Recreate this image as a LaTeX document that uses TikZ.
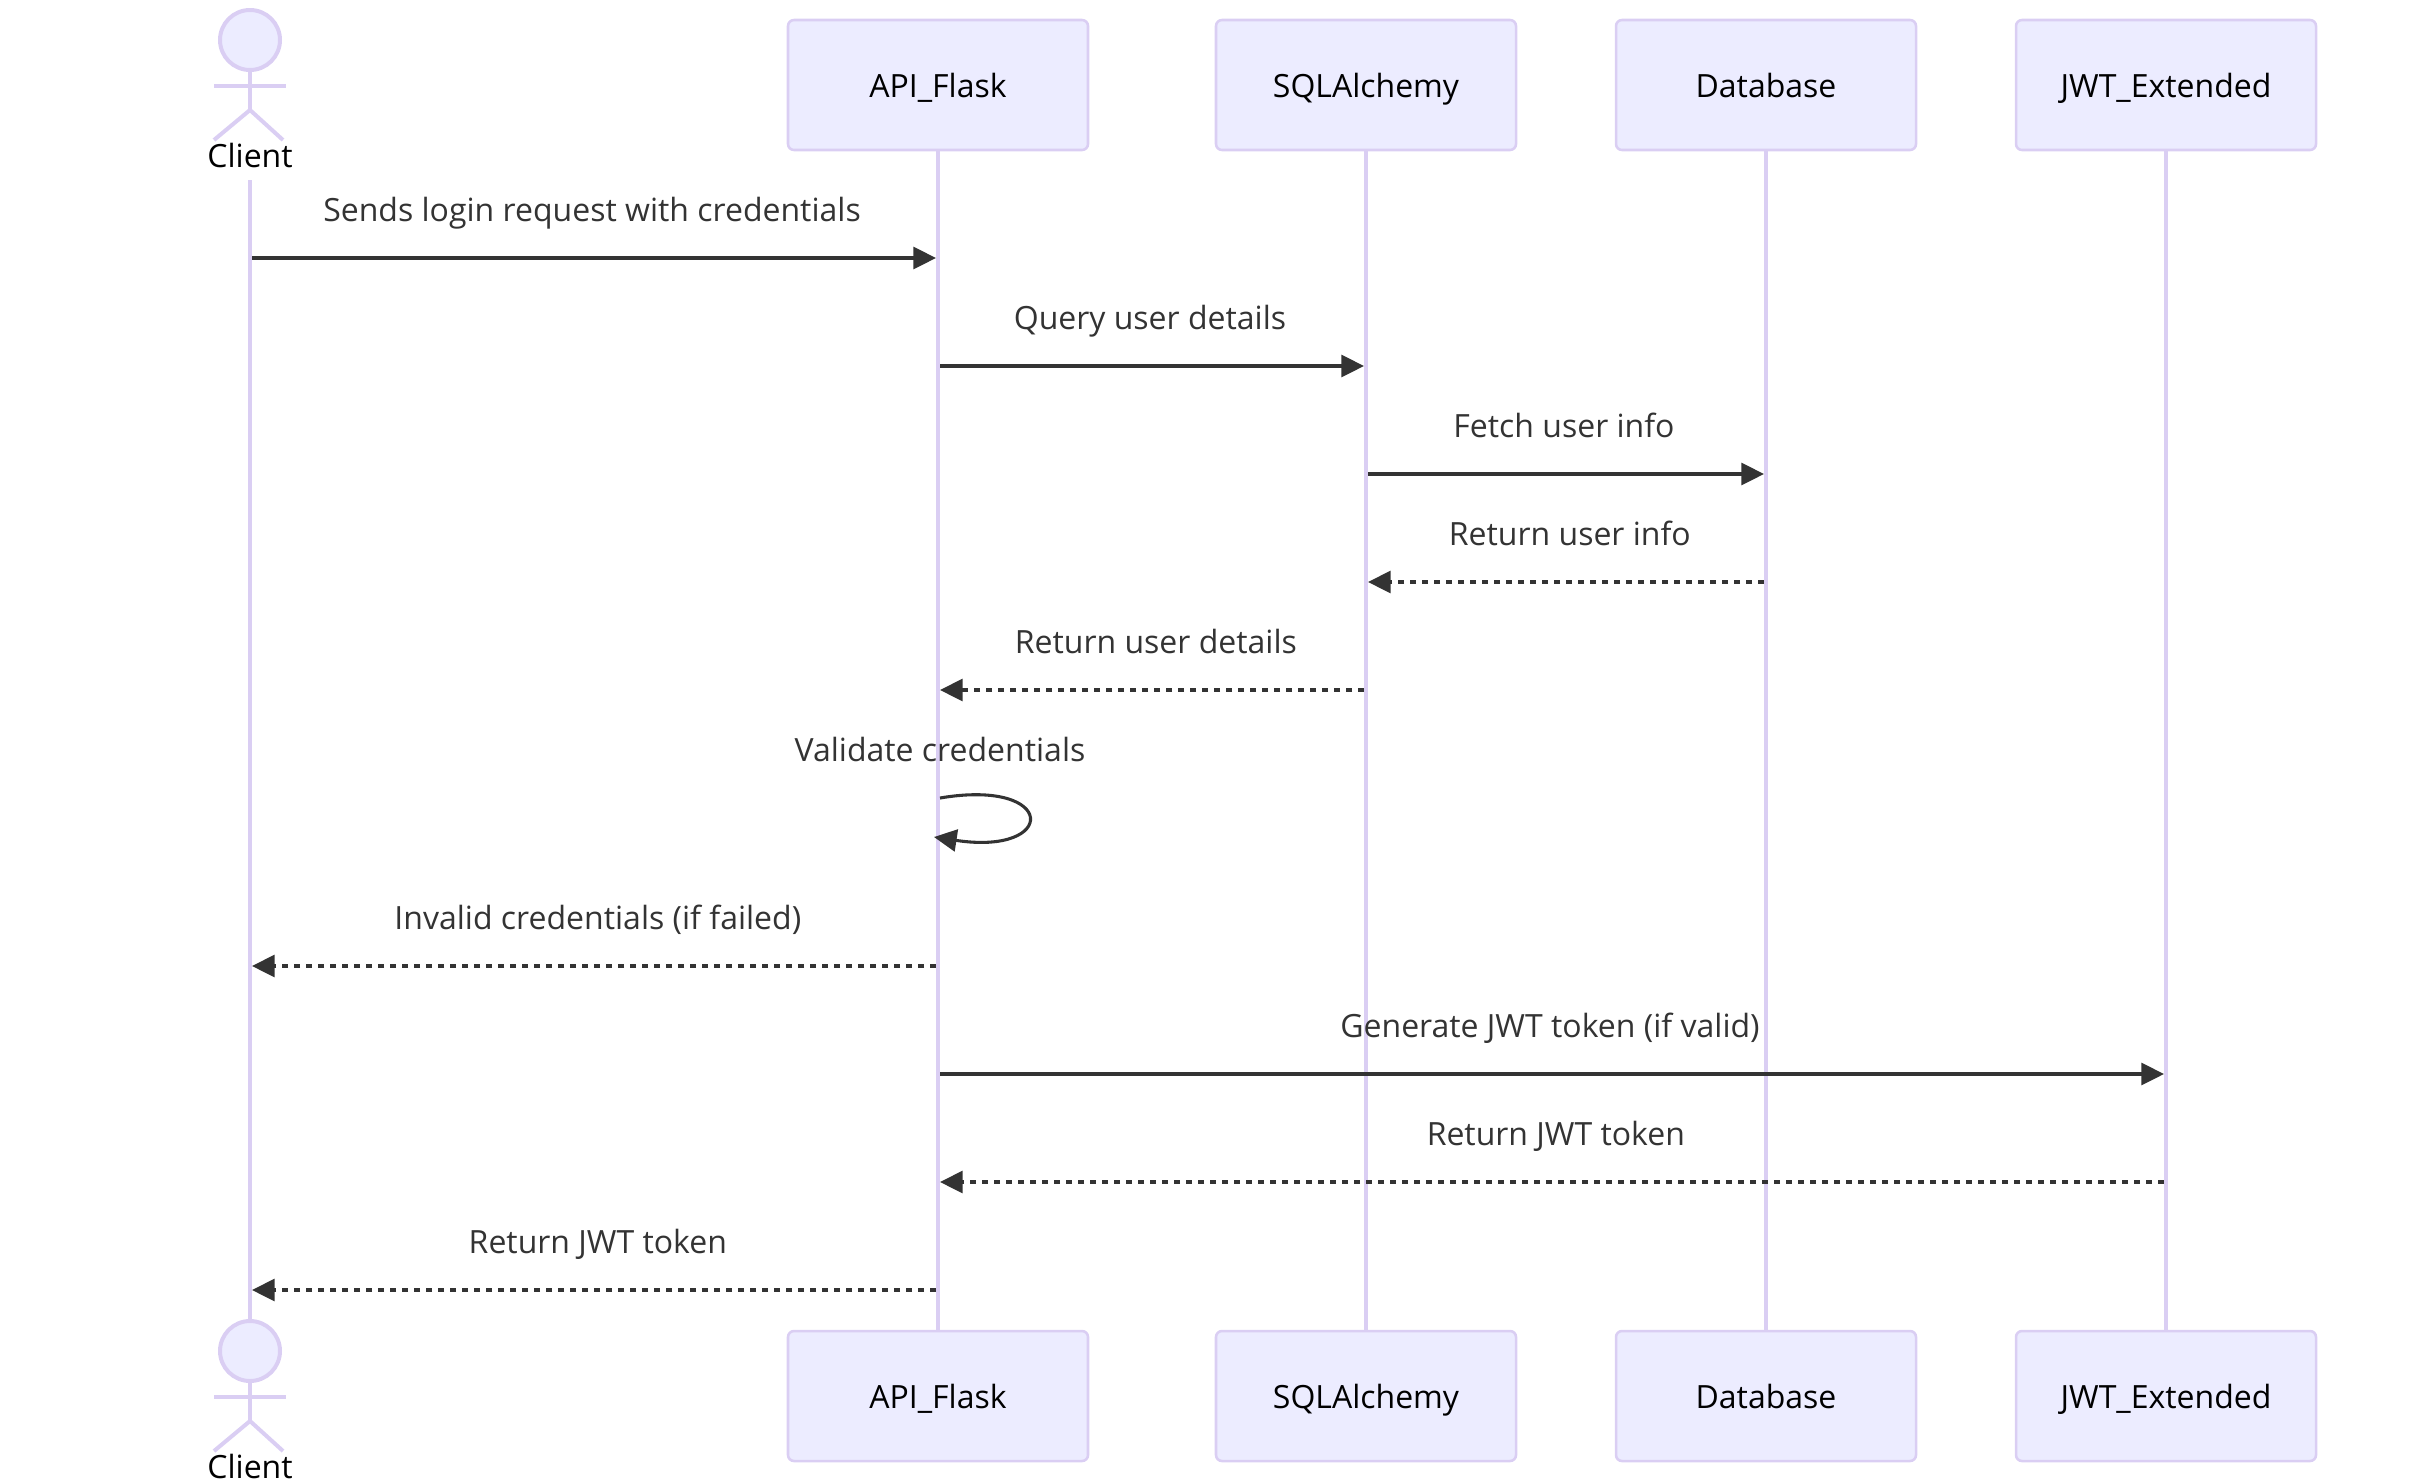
\documentclass[tikz,border=0pt]{standalone}
\usepackage{fontspec}
\setmainfont{Open Sans}
\usepackage{xcolor}
\usetikzlibrary{arrows.meta,positioning}
\definecolor{actorfill}{HTML}{ECECFF}
\definecolor{actorline}{HTML}{DACEF3}
\definecolor{msgink}{HTML}{333333}

\begin{document}
\begin{tikzpicture}[
    x=0.75pt, y=-0.75pt,
    box/.style={
      rectangle, rounded corners=4.5pt, draw=actorline, line width=1.9pt,
      fill=actorfill, text centered, text=black, font=\fontsize{24}{28}\selectfont,
      minimum width=225pt, minimum height=97.5pt, text height=18pt, text depth=0pt
    },
    head/.style={circle, draw=actorline, line width=3pt, fill=actorfill, minimum size=45pt, inner sep=0pt},
    limb/.style={draw=actorline, line width=3pt},
    actorname/.style={font=\fontsize{24}{28}\selectfont, text=black, anchor=base, inner sep=0pt},
    life/.style={draw=actorline, line width=3.2pt},
    msg/.style={-{Triangle[length=17pt,width=16.5pt]}, draw=msgink, fill=none, line width=2.3pt},
    reply/.style={msg, dash pattern=on 4.5pt off 4.5pt},
    msglabel/.style={font=\fontsize{24}{28}\selectfont, text=msgink, anchor=base, inner sep=0pt, yshift=27.4pt, xshift=-1.5pt},
    replylabel/.style={msglabel, xshift=4.4pt}
  ]
  \useasboundingbox (0,0) rectangle (2416,1482);

  % top row
  \node[box] (api)  at (938,85)  {API\_Flask};
  \node[box] (sql)  at (1366,85) {SQLAlchemy};
  \node[box] (db)   at (1766,85) {Database};
  \node[box] (jwt)  at (2166,85) {JWT\_Extended};

  % bottom row
  \node[box] (apib) at (938,1396)  {API\_Flask};
  \node[box] (sqlb) at (1366,1396) {SQLAlchemy};
  \node[box] (dbb)  at (1766,1396) {Database};
  \node[box] (jwtb) at (2166,1396) {JWT\_Extended};

  % client, top
  \node[head] (client) at (250,40) {};
  \coordinate (hip) at (250,110);
  \coordinate (armL) at (214,86);
  \coordinate (armR) at (286,86);
  \coordinate (footL) at (214,140);
  \coordinate (footR) at (283,140);
  \draw[limb] (client.south) -- (hip);
  \draw[limb] (armL) -- (armR);
  \draw[limb] (footL) -- (hip) -- (footR);
  \node[actorname] (clientname) at (250,167) {Client};
  \coordinate (clientstart) at (250,180);

  % client, bottom
  \node[head] (clientb) at (250,1351) {};
  \coordinate (hipb) at (250,1421);
  \coordinate (armbL) at (214,1397);
  \coordinate (armbR) at (286,1397);
  \coordinate (footbL) at (214,1451);
  \coordinate (footbR) at (283,1451);
  \draw[limb] (clientb.south) -- (hipb);
  \draw[limb] (armbL) -- (armbR);
  \draw[limb] (footbL) -- (hipb) -- (footbR);
  \node[actorname] (clientbname) at (250,1478) {Client};

  % lifelines
  \draw[life] (clientstart) -- (clientb.north);
  \draw[life] (api.south) -- (apib.north);
  \draw[life] (sql.south) -- (sqlb.north);
  \draw[life] (db.south) -- (dbb.north);
  \draw[life] (jwt.south) -- (jwtb.north);

  % messages
  \coordinate (m1s) at (252,258);   \coordinate (m1e) at (936,258);
  \coordinate (m2s) at (940,366);   \coordinate (m2e) at (1364,366);
  \coordinate (m3s) at (1368,474);  \coordinate (m3e) at (1764,474);
  \coordinate (m4s) at (1764,582);  \coordinate (m4e) at (1368,582);
  \coordinate (m5s) at (1364,690);  \coordinate (m5e) at (940,690);
  \coordinate (m6s) at (940,798);   \coordinate (m6e) at (934,837);
  \coordinate (m7s) at (936,966);   \coordinate (m7e) at (252,966);
  \coordinate (m8s) at (940,1074);  \coordinate (m8e) at (2164,1074);
  \coordinate (m9s) at (2164,1182); \coordinate (m9e) at (940,1182);
  \coordinate (m10s) at (936,1290); \coordinate (m10e) at (252,1290);

  \draw[msg] (m1s) -- node[msglabel]{Sends login request with credentials} (m1e);
  \draw[msg] (m2s) -- node[msglabel]{Query user details} (m2e);
  \draw[msg] (m3s) -- node[msglabel]{Fetch user info} (m3e);
  \draw[reply] (m4s) -- node[replylabel]{Return user info} (m4e);
  \draw[reply] (m5s) -- node[replylabel]{Return user details} (m5e);
  \node[msglabel, xshift=1.5pt] (vallabel) at (m6s) {Validate credentials};
  \draw[msg] (m6s) .. controls (1058,778) and (1058,856) .. (m6e);
  \draw[reply] (m7s) -- node[replylabel]{Invalid credentials (if failed)} (m7e);
  \draw[msg] (m8s) -- node[msglabel]{Generate JWT token (if valid)} (m8e);
  \draw[reply] (m9s) -- node[replylabel]{Return JWT token} (m9e);
  \draw[reply] (m10s) -- node[replylabel]{Return JWT token} (m10e);
\end{tikzpicture}
\end{document}
